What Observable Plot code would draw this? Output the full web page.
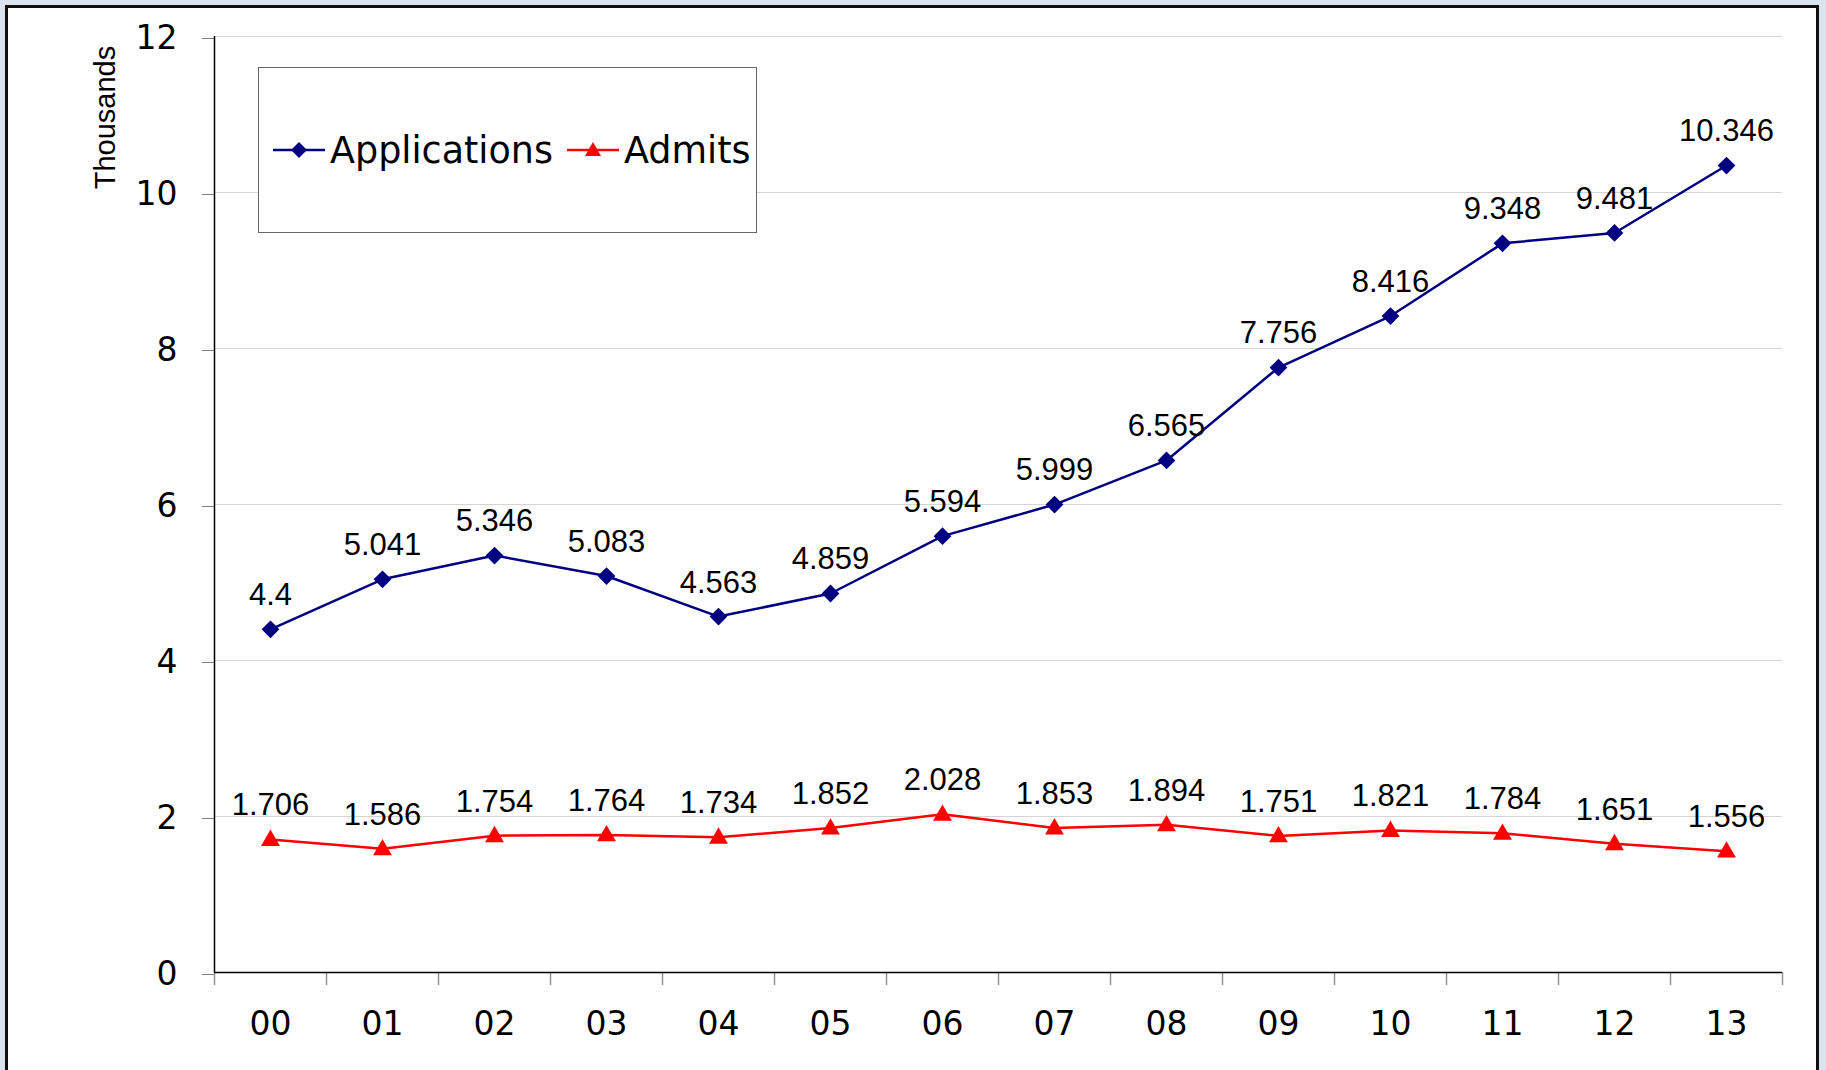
<!DOCTYPE html>
<html>
<head>
<meta charset="utf-8">
<script src="https://cdn.jsdelivr.net/npm/d3@7"></script>
<script src="https://cdn.jsdelivr.net/npm/@observablehq/plot@0.6"></script>
<style>
  html, body { margin: 0; padding: 0; width: 1826px; height: 1070px; overflow: hidden; background: #d9e4ef; }
  #frame { position: absolute; left: 5px; top: 5px; width: 1814px; height: 1100px; background: #fff; border: 3px solid #111; box-sizing: border-box; }
  #chart { position: absolute; left: 0; top: 0; }
  #legend { position: absolute; left: 258px; top: 67px; width: 499px; height: 166px; border: 1.5px solid #666; box-sizing: border-box; background: #fff;
            font-family: "DejaVu Sans", Verdana, sans-serif; font-size: 36.5px; color: #000; }
  .item { position: absolute; top: 60px; height: 44px; display: flex; align-items: center; }
  .item svg { display: block; margin-right: 4px; }
</style>
</head>
<body>
<div id="frame"></div>
<div id="chart"></div>
<div id="legend">
  <div class="item" style="left:13px"><svg width="54" height="20"><line x1="1" x2="53" y1="10" y2="10" stroke="#000080" stroke-width="2.5"/><path d="M27 2 L35 10 L27 18 L19 10 Z" fill="#000080"/></svg><span>Applications</span></div>
  <div class="item" style="left:307px"><svg width="54" height="20"><line x1="1" x2="53" y1="10" y2="10" stroke="#ff0000" stroke-width="2.5"/><path d="M27 2 L35 16 L19 16 Z" fill="#ff0000"/></svg><span>Admits</span></div>
</div>
<script>
const years = ["00","01","02","03","04","05","06","07","08","09","10","11","12","13"];
const applications = [4.4, 5.041, 5.346, 5.083, 4.563, 4.859, 5.594, 5.999, 6.565, 7.756, 8.416, 9.348, 9.481, 10.346];
const admits = [1.706, 1.586, 1.754, 1.764, 1.734, 1.852, 2.028, 1.853, 1.894, 1.751, 1.821, 1.784, 1.651, 1.556];
const yTicks = [0, 2, 4, 6, 8, 10, 12];

const idx = years.map((_, i) => i);
const bounds = d3.range(-0.5, years.length, 1);
const appData = idx.map(i => ({i, v: applications[i]}));
const admData = idx.map(i => ({i, v: admits[i]}));
const fmt = v => String(v);

const chart = Plot.plot({
  width: 1826,
  height: 1070,
  marginLeft: 214,
  marginRight: 44,
  marginTop: 36,
  marginBottom: 98,
  style: {background: "transparent", fontFamily: "Liberation Sans, Arial, sans-serif", overflow: "visible"},
  x: {type: "linear", domain: [-0.5, years.length - 0.5], axis: null},
  y: {domain: [0, 12], axis: null},
  marks: [
    Plot.gridY(yTicks.filter(d => d > 0), {stroke: "#d4d4d4", strokeOpacity: 1, strokeWidth: 1.2}),
    Plot.axisY(yTicks, {tickSize: 12, tickPadding: 25, tickFormat: d => String(d), stroke: "#808080", fontSize: 33, fontFamily: "DejaVu Sans, Verdana, sans-serif", fill: "#000", label: null, dy: 2}),
    Plot.axisX(bounds, {tickSize: 13, stroke: "#909090", strokeWidth: 1.5, tickFormat: () => "", label: null}),
    Plot.axisX(idx, {tickSize: 0, tickPadding: 39, tickFormat: i => years[i], fontSize: 33, fontFamily: "DejaVu Sans, Verdana, sans-serif", fill: "#000", label: null}),
    Plot.ruleX([-0.5], {stroke: "#000", strokeWidth: 1.5}),
    Plot.ruleY([0], {stroke: "#000", strokeWidth: 1.5}),
    Plot.line(appData, {x: "i", y: "v", stroke: "#000080", strokeWidth: 2.5}),
    Plot.dot(appData, {x: "i", y: "v", symbol: "diamond2", r: 8, fill: "#000080", stroke: "none"}),
    Plot.line(admData, {x: "i", y: "v", stroke: "#ff0000", strokeWidth: 2.5}),
    Plot.dot(admData, {x: "i", y: "v", symbol: "triangle", r: 7, fill: "#ff0000", stroke: "none", dy: 1}),
    Plot.text(appData, {x: "i", y: "v", text: d => fmt(d.v), dy: -34, fontSize: 31, fill: "#000", fontFamily: "Liberation Sans, Arial, sans-serif"}),
    Plot.text(admData, {x: "i", y: "v", text: d => fmt(d.v), dy: -34, fontSize: 31, fill: "#000", fontFamily: "Liberation Sans, Arial, sans-serif"}),
    Plot.text(["Thousands"], {frameAnchor: "left", textAnchor: "middle", lineAnchor: "middle", dx: -109, dy: -387, rotate: -90, text: d => d, fontSize: 29, fill: "#000", fontFamily: "Liberation Sans, Arial, sans-serif"})
  ]
});
document.getElementById("chart").appendChild(chart);
</script>
</body>
</html>
